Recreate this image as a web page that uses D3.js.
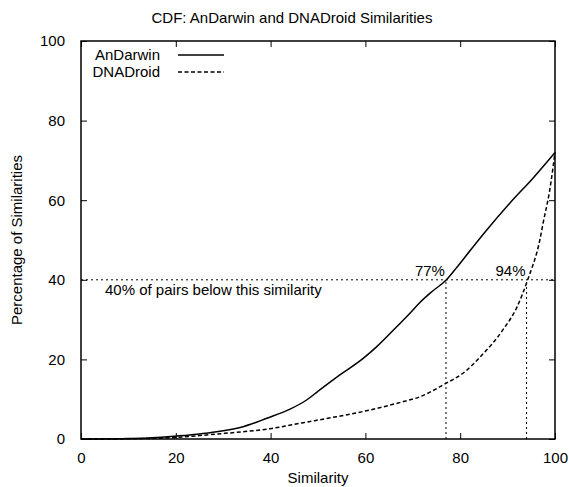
<!DOCTYPE html>
<html>
<head>
<meta charset="utf-8">
<style>
  body { margin: 0; background: #fff; }
  svg text { font-family: "Liberation Sans", Arial, sans-serif; fill: #000; }
</style>
</head>
<body>
<svg width="569" height="487"></svg>
<script src="https://d3js.org/d3.v7.min.js"></script>
<script>
// similarity (x) -> cumulative percentage (y)
const anDarwinX = [0, 5, 10, 15, 20.2, 24.5, 28.6, 34.2, 39.2, 44.1, 47.6, 50.1, 53.9, 59.6, 62.4, 66.6, 69.4, 71.5, 74, 77.1, 79.2, 81.4, 85.6, 90.5, 95.4, 100];
const anDarwinY = [0, 0, 0.1, 0.3, 0.75, 1.2, 1.8, 3.1, 5.2, 7.5, 9.8, 12.1, 15.5, 20.3, 23.2, 28.2, 31.6, 34.3, 37.0, 40.0, 43.0, 46.3, 52.5, 59.3, 65.6, 72];
const dnaDroidX = [0, 5, 10, 15, 20.2, 28.6, 34, 39.9, 46.9, 53.9, 61.0, 68.0, 71.5, 76.4, 81.4, 84.2, 89, 92, 94.3, 96.8, 97.5, 98.9, 100];
const dnaDroidY = [0, 0, 0.05, 0.15, 0.4, 1.25, 1.8, 2.6, 4.1, 5.6, 7.3, 9.4, 10.6, 13.6, 17.3, 20.6, 27.4, 33.2, 40.2, 50, 54.3, 62.6, 72];
const ticks = [0, 20, 40, 60, 80, 100];
const refLevel = 40;
const refMarks = [77, 94];
const seriesNames = ["AnDarwin", "DNADroid"];

const svg = d3.select("svg");
const margin = { left: 81, right: 14, top: 41, bottom: 48 };
const width = 569, height = 487;
const fontSize = "15px";

const x = d3.scaleLinear().domain([0, 100]).range([margin.left, width - margin.right]);
const y = d3.scaleLinear().domain([0, 100]).range([height - margin.bottom, margin.top]);

// title
svg.append("text")
    .attr("x", 292).attr("y", 23)
    .attr("text-anchor", "middle")
    .style("font-size", fontSize)
    .text("CDF: AnDarwin and DNADroid Similarities");

// axes with inward ticks on all sides
const tickLen = 6;
svg.append("g")
    .attr("transform", `translate(0,${y(0)})`)
    .call(d3.axisBottom(x).tickValues(ticks).tickSize(-tickLen).tickPadding(13))
    .call(g => g.select(".domain").remove());
svg.append("g")
    .attr("transform", `translate(0,${y(100)})`)
    .call(d3.axisTop(x).tickValues(ticks).tickSize(-tickLen).tickFormat(""))
    .call(g => g.select(".domain").remove());
svg.append("g")
    .attr("transform", `translate(${x(0)},0)`)
    .call(d3.axisLeft(y).tickValues(ticks).tickSize(-tickLen).tickPadding(16))
    .call(g => g.select(".domain").remove());
svg.append("g")
    .attr("transform", `translate(${x(100)},0)`)
    .call(d3.axisRight(y).tickValues(ticks).tickSize(-tickLen).tickFormat(""))
    .call(g => g.select(".domain").remove());

svg.selectAll(".tick line").attr("stroke", "#000").attr("stroke-width", 1);
svg.selectAll(".tick text").style("font-size", fontSize).style("font-family", "Liberation Sans, Arial, sans-serif").attr("fill", "#000");

// frame
svg.append("rect")
    .attr("x", x(0)).attr("y", y(100))
    .attr("width", x(100) - x(0)).attr("height", y(0) - y(100))
    .attr("fill", "none").attr("stroke", "#000").attr("stroke-width", 1.5);

// axis labels
svg.append("text")
    .attr("x", x(50)).attr("y", 483)
    .attr("text-anchor", "middle")
    .style("font-size", fontSize)
    .text("Similarity");
svg.append("text")
    .attr("transform", `translate(22,${y(50)}) rotate(-90)`)
    .attr("text-anchor", "middle")
    .style("font-size", fontSize)
    .text("Percentage of Similarities");

// reference lines
const dotted = "2,3";
svg.append("line")
    .attr("x1", x(0)).attr("x2", x(100))
    .attr("y1", y(refLevel)).attr("y2", y(refLevel))
    .attr("stroke", "#000").attr("stroke-width", 1).attr("stroke-dasharray", dotted);
svg.selectAll(".vref")
    .data(refMarks)
    .enter().append("line")
    .attr("x1", d => x(d)).attr("x2", d => x(d))
    .attr("y1", y(0)).attr("y2", y(refLevel))
    .attr("stroke", "#000").attr("stroke-width", 1).attr("stroke-dasharray", dotted);
svg.selectAll(".vlabel")
    .data(refMarks)
    .enter().append("text")
    .attr("x", d => x(d) - 1).attr("y", y(refLevel) - 4)
    .attr("text-anchor", "end")
    .style("font-size", fontSize)
    .text(d => d + "%");
svg.append("text")
    .attr("x", 105).attr("y", y(refLevel) + 15)
    .style("font-size", fontSize)
    .text("40% of pairs below this similarity");

// curves
const line = d3.line().x(d => x(d[0])).y(d => y(d[1])).curve(d3.curveMonotoneX);
svg.append("path")
    .datum(d3.zip(anDarwinX, anDarwinY))
    .attr("d", line)
    .attr("fill", "none").attr("stroke", "#000").attr("stroke-width", 1.5);
svg.append("path")
    .datum(d3.zip(dnaDroidX, dnaDroidY))
    .attr("d", line)
    .attr("fill", "none").attr("stroke", "#000").attr("stroke-width", 1.5)
    .attr("stroke-dasharray", "4,2.5");

// legend
const legend = svg.append("g");
seriesNames.forEach((name, i) => {
    const ly = 55 + i * 17;
    legend.append("text")
        .attr("x", 160).attr("y", ly + 5)
        .attr("text-anchor", "end")
        .style("font-size", fontSize)
        .text(name);
    legend.append("line")
        .attr("x1", 178).attr("x2", 224)
        .attr("y1", ly).attr("y2", ly)
        .attr("stroke", "#000").attr("stroke-width", 1.5)
        .attr("stroke-dasharray", i === 0 ? null : "4,2.5");
});
</script>
</body>
</html>
